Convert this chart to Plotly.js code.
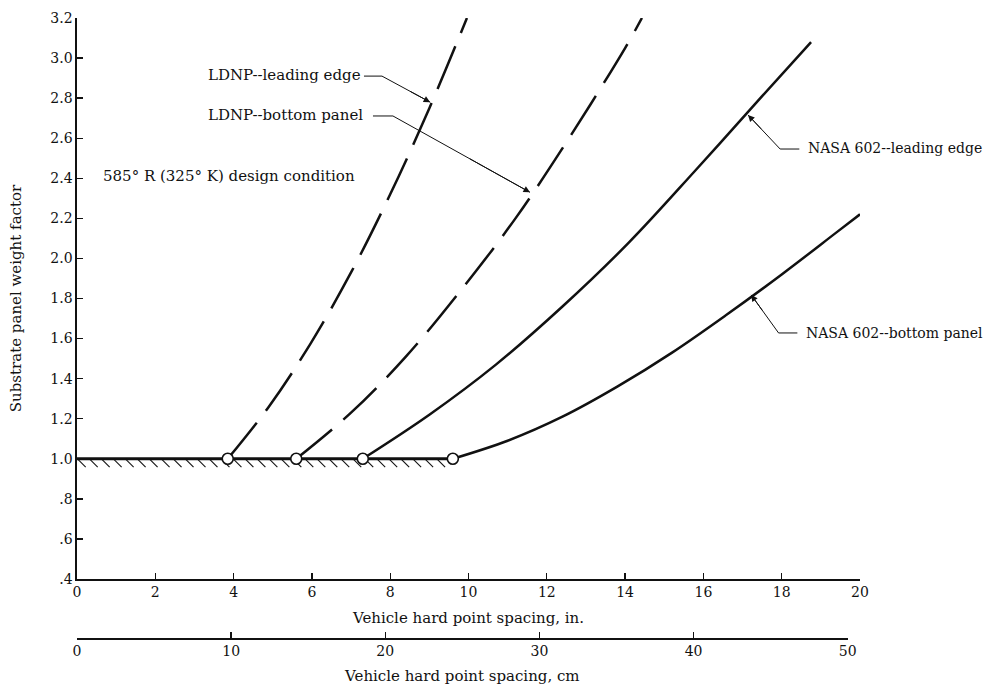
<!DOCTYPE html>
<html>
<head>
<meta charset="utf-8">
<script src="https://cdn.plot.ly/plotly-3.0.1.min.js"></script>
<style>html,body{margin:0;padding:0;background:#fff;}#chart{width:990px;height:690px;}</style>
</head>
<body>
<div id="chart"></div>
<script>
// ---- data ----
const ldnpLeadX = [3.85, 4.90, 5.95, 7.00, 8.00, 9.00, 9.96];
const ldnpLeadY = [1.00, 1.26, 1.57, 1.93, 2.32, 2.75, 3.20];

const ldnpBotX = [5.60, 7.00, 8.40, 9.80, 11.20, 12.60, 14.00, 14.43];
const ldnpBotY = [1.00, 1.23, 1.51, 1.84, 2.20, 2.61, 3.05, 3.20];

const nasaLeadX = [7.30, 9.00, 10.70, 12.40, 14.10, 15.80, 17.50, 18.75];
const nasaLeadY = [1.00, 1.22, 1.47, 1.76, 2.08, 2.44, 2.81, 3.08];

const nasaBotX = [9.60, 11.00, 12.40, 13.80, 15.20, 16.60, 18.00, 19.40, 20.00];
const nasaBotY = [1.00, 1.09, 1.21, 1.36, 1.53, 1.72, 1.92, 2.13, 2.22];

const baseX = [0, 9.6];          // minimum weight factor line
const baseY = [1.0, 1.0];
const startX = [3.85, 5.60, 7.30, 9.60];   // open circles where curves leave 1.0
const startY = [1.0, 1.0, 1.0, 1.0];

const yTickVals = [0.4, 0.6, 0.8, 1.0, 1.2, 1.4, 1.6, 1.8, 2.0, 2.2, 2.4, 2.6, 2.8, 3.0, 3.2];
const yTickText = ['.4', '.6', '.8', '1.0', '1.2', '1.4', '1.6', '1.8', '2.0', '2.2', '2.4', '2.6', '2.8', '3.0', '3.2'];
const xTickVals = [0, 2, 4, 6, 8, 10, 12, 14, 16, 18, 20];
const cmTickVals = [0, 10, 20, 30, 40, 50];

const labels = {
  ldnpLead: 'LDNP--leading edge',
  ldnpBot: 'LDNP--bottom panel',
  nasaLead: 'NASA 602--leading edge',
  nasaBot: 'NASA 602--bottom panel',
  cond: '585° R (325° K) design condition'
};

// ---- styling / layout helpers ----
const FONT = 'DejaVu Serif, Liberation Serif, serif';
const INK = '#111';
const CM_PER_IN = 2.54;
const X_MAX = 20, CM_MAX = 50;
const TXT = 15, TICK = 14;

// hatch marks under the 1.0 line (decoration)
const hatchX = [];
for (let h = 0.12; h <= 9.45; h += 0.306) hatchX.push(h);
const hatchY = hatchX.map(() => 0.978);

const curveLine = (dash) => ({color: INK, width: 2.5, dash: dash, shape: 'spline', smoothing: 1});

const traces = [
  {x: baseX, y: baseY, mode: 'lines', line: {color: INK, width: 3}, hoverinfo: 'skip'},
  {x: hatchX, y: hatchY, mode: 'markers', hoverinfo: 'skip',
   marker: {symbol: 'line-nw', size: 8, color: INK, line: {color: INK, width: 1.1}}},
  {x: ldnpLeadX, y: ldnpLeadY, mode: 'lines', name: labels.ldnpLead, line: curveLine('46px,15px')},
  {x: ldnpBotX, y: ldnpBotY, mode: 'lines', name: labels.ldnpBot, line: curveLine('46px,15px')},
  {x: nasaLeadX, y: nasaLeadY, mode: 'lines', name: labels.nasaLead, line: curveLine('solid')},
  {x: nasaBotX, y: nasaBotY, mode: 'lines', name: labels.nasaBot, line: curveLine('solid')},
  {x: startX, y: startY, mode: 'markers', hoverinfo: 'skip',
   marker: {symbol: 'circle', size: 11, color: '#fff', line: {color: INK, width: 1.6}}},
  // carrier for the centimetre axis
  {x: [0, CM_MAX], y: [null, null], xaxis: 'x2', yaxis: 'y', mode: 'lines', hoverinfo: 'skip'}
];

const leaders = [
  {text: labels.ldnpLead, size: 15, tx: 3.30, ty: 2.915, hx0: 7.33, hx1: 7.79, hy: 2.910, px: 9.02, py: 2.78},
  {text: labels.ldnpBot,  size: 15, tx: 3.30, ty: 2.716, hx0: 7.56, hx1: 8.07, hy: 2.711, px: 11.57, py: 2.33},
  {text: labels.nasaLead, size: 14, tx: 18.62, ty: 2.551, hx0: 18.45, hx1: 17.96, hy: 2.546, px: 17.14, py: 2.716},
  {text: labels.nasaBot,  size: 14, tx: 18.56, ty: 1.628, hx0: 18.40, hx1: 17.92, hy: 1.628, px: 17.22, py: 1.818}
];

const annotations = [];
const shapes = [];
leaders.forEach(l => {
  annotations.push({x: l.tx, y: l.ty, xref: 'x', yref: 'y', text: l.text, showarrow: false,
    xanchor: 'left', yanchor: 'middle', font: {family: FONT, size: l.size, color: INK}});
  shapes.push({type: 'path', xref: 'x', yref: 'y',
    path: `M ${l.hx0},${l.hy} L ${l.hx1},${l.hy} L ${l.px},${l.py}`,
    line: {color: INK, width: 1}});
  annotations.push({x: l.px, y: l.py, xref: 'x', yref: 'y',
    ax: l.hx1 + 0.55 * (l.px - l.hx1), ay: l.hy + 0.55 * (l.py - l.hy), axref: 'x', ayref: 'y',
    text: '', showarrow: true, arrowhead: 2, arrowsize: 1.3, arrowwidth: 1, arrowcolor: INK, standoff: 0});
});
annotations.push({x: 0.61, y: 2.411, xref: 'x', yref: 'y', text: labels.cond, showarrow: false,
  xanchor: 'left', yanchor: 'middle', font: {family: FONT, size: TXT, color: INK}});

const plotTop = 18, plotBottom = 579, cmLine = 638, H = 690;
const paperH = H - plotTop - (H - cmLine);

const layout = {
  width: 990, height: 690,
  margin: {l: 77, r: 130, t: plotTop, b: H - cmLine, pad: 0},
  paper_bgcolor: '#fff', plot_bgcolor: 'rgba(0,0,0,0)',
  showlegend: false,
  font: {family: FONT, size: TXT, color: INK},
  xaxis: {
    range: [0, X_MAX], domain: [0, 1], anchor: 'y',
    tickvals: xTickVals, ticks: 'inside', ticklen: 6, tickwidth: 1.3, tickcolor: INK,
    showline: true, linecolor: INK, linewidth: 1.6, showgrid: false, zeroline: false,
    tickfont: {family: FONT, size: TICK, color: INK},
    title: {text: 'Vehicle hard point spacing, in.', standoff: 13, font: {family: FONT, size: TXT, color: INK}}
  },
  xaxis2: {
    range: [0, CM_MAX], domain: [0, CM_MAX / CM_PER_IN / X_MAX], anchor: 'free', position: 0, side: 'bottom',
    tickvals: cmTickVals, ticks: 'inside', ticklen: 6, tickwidth: 1.3, tickcolor: INK,
    showline: true, linecolor: INK, linewidth: 1.6, showgrid: false, zeroline: false,
    tickfont: {family: FONT, size: TICK, color: INK},
    title: {text: 'Vehicle hard point spacing, cm', standoff: 12, font: {family: FONT, size: TXT, color: INK}}
  },
  yaxis: {
    range: [0.4, 3.2], domain: [(cmLine - plotBottom) / paperH, 1], anchor: 'x',
    tickvals: yTickVals, ticktext: yTickText, ticks: 'inside', ticklen: 6, tickwidth: 1.3, tickcolor: INK,
    showline: true, linecolor: INK, linewidth: 1.6, showgrid: false, zeroline: false,
    tickfont: {family: FONT, size: TICK, color: INK},
    title: {text: 'Substrate panel weight factor', standoff: 25, font: {family: FONT, size: TXT, color: INK}}
  },
  annotations: annotations,
  shapes: shapes
};

Plotly.newPlot('chart', traces, layout, {displayModeBar: false, staticPlot: true});
</script>
</body>
</html>
